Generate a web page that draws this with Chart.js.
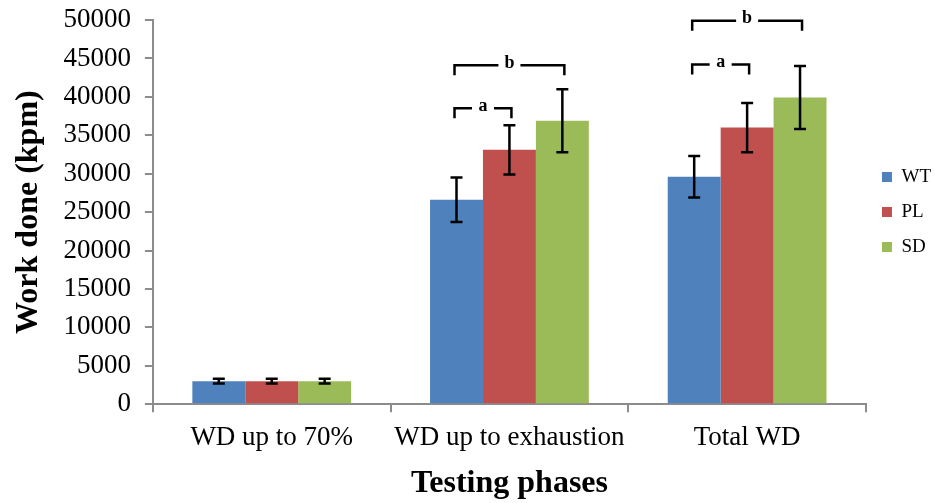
<!DOCTYPE html>
<html>
<head>
<meta charset="utf-8">
<script src="https://cdn.jsdelivr.net/npm/chart.js@4.4.1/dist/chart.umd.min.js"></script>
<style>
    body { margin: 0; background: #fff; overflow: hidden; }
    #wrap { width: 935px; height: 503px; }
</style>
</head>
<body>
<div id="wrap"><canvas id="workChart"></canvas></div>
<script>
// Data
const phases = ['WD up to 70%', 'WD up to exhaustion', 'Total WD'];
const groups = ['WT', 'PL', 'SD'];
const wtMeans = [3000, 26600, 29600];
const plMeans = [3000, 33100, 36000];
const sdMeans = [3000, 36900, 39900];
const wtErr = [300, 2900, 2700];
const plErr = [300, 3200, 3200];
const sdErr = [300, 4100, 4100];

// significance brackets: phase index, from group, to group, height, letter
const bracketPhase = [1, 1, 2, 2];
const bracketFrom = [0, 0, 0, 0];
const bracketTo = [1, 2, 1, 2];
const bracketLevel = [38500, 44100, 44200, 49900];
const bracketLabel = ['a', 'b', 'a', 'b'];

const colors = ['#4F81BD', '#C0504D', '#9BBB59'];
const serif = "'Liberation Serif', 'Times New Roman', serif";

// error bars drawn from the dataset elements
const errorBars = {
    id: 'errorBars',
    afterDatasetsDraw(chart) {
        const ctx = chart.ctx;
        const y = chart.scales.y;
        const errs = [wtErr, plErr, sdErr];
        ctx.save();
        ctx.strokeStyle = '#000';
        ctx.lineWidth = 2.5;
        chart.data.datasets.forEach((ds, i) => {
            chart.getDatasetMeta(i).data.forEach((bar, j) => {
                const v = ds.data[j];
                const top = y.getPixelForValue(v + errs[i][j]);
                const bot = y.getPixelForValue(v - errs[i][j]);
                const x = bar.x;
                ctx.beginPath();
                ctx.moveTo(x, top); ctx.lineTo(x, bot);
                ctx.moveTo(x - 6, top); ctx.lineTo(x + 6, top);
                ctx.moveTo(x - 6, bot); ctx.lineTo(x + 6, bot);
                ctx.stroke();
            });
        });
        ctx.restore();
    }
};

const brackets = {
    id: 'brackets',
    afterDatasetsDraw(chart) {
        const ctx = chart.ctx;
        const y = chart.scales.y;
        ctx.save();
        ctx.strokeStyle = '#000';
        ctx.lineWidth = 2.5;
        ctx.fillStyle = '#000';
        ctx.font = "bold 18px " + serif;
        ctx.textAlign = 'center';
        ctx.textBaseline = 'middle';
        bracketPhase.forEach((p, k) => {
            const x1 = chart.getDatasetMeta(bracketFrom[k]).data[p].x - 2;
            const x2 = chart.getDatasetMeta(bracketTo[k]).data[p].x + 2;
            const yy = y.getPixelForValue(bracketLevel[k]);
            const mid = (x1 + x2) / 2;
            const gap = 11;
            ctx.beginPath();
            ctx.moveTo(x1, yy + 10); ctx.lineTo(x1, yy); ctx.lineTo(mid - gap, yy);
            ctx.moveTo(mid + gap, yy); ctx.lineTo(x2, yy); ctx.lineTo(x2, yy + 10);
            ctx.stroke();
            ctx.fillText(bracketLabel[k], mid, yy - 2);
        });
        ctx.restore();
    }
};

const ctx = document.getElementById('workChart').getContext('2d');
const workChart = new Chart(ctx, {
    type: 'bar',
    data: {
        labels: phases,
        datasets: [
            { label: groups[0], data: wtMeans, backgroundColor: colors[0] },
            { label: groups[1], data: plMeans, backgroundColor: colors[1] },
            { label: groups[2], data: sdMeans, backgroundColor: colors[2] },
        ],
    },
    options: {
        responsive: true,
        maintainAspectRatio: false,
        animation: false,
        categoryPercentage: 0.668,
        barPercentage: 1.0,
        layout: {
            padding: { top: 0, right: -6, bottom: 0, left: 10 },
        },
        scales: {
            x: {
                grid: {
                    display: true,
                    drawOnChartArea: false,
                    drawTicks: true,
                    tickLength: 8,
                    color: '#8c8c8c',
                    lineWidth: 2,
                },
                border: { color: '#8c8c8c', width: 2 },
                ticks: {
                    color: '#000',
                    padding: 10,
                    font: { family: serif, size: 27 },
                },
                title: {
                    display: true,
                    text: 'Testing phases',
                    color: '#000',
                    padding: { top: 0, bottom: 0 },
                    font: { family: serif, size: 32, weight: 'bold' },
                },
            },
            y: {
                min: 0,
                max: 50000,
                afterFit: (scale) => {
                    // let the top label sit closer to the canvas edge
                    scale.paddingTop = 20;
                },
                grid: {
                    display: true,
                    drawOnChartArea: false,
                    drawTicks: true,
                    tickLength: 8,
                    color: '#8c8c8c',
                    lineWidth: 2,
                },
                border: { color: '#8c8c8c', width: 2 },
                ticks: {
                    stepSize: 5000,
                    color: '#000',
                    padding: 14,
                    font: { family: serif, size: 27 },
                    callback: (value) => String(value),
                },
                title: {
                    display: true,
                    text: 'Work done (kpm)',
                    color: '#000',
                    padding: { top: 0, bottom: 1 },
                    font: { family: serif, size: 32, weight: 'bold' },
                },
            },
        },
        plugins: {
            legend: {
                position: 'right',
                fullSize: false,
                labels: {
                    color: '#000',
                    boxWidth: 10,
                    boxHeight: 10,
                    padding: 16,
                    font: { family: serif, size: 19 },
                },
            },
            tooltip: { enabled: false },
        },
    },
    plugins: [errorBars, brackets],
});
</script>
</body>
</html>
